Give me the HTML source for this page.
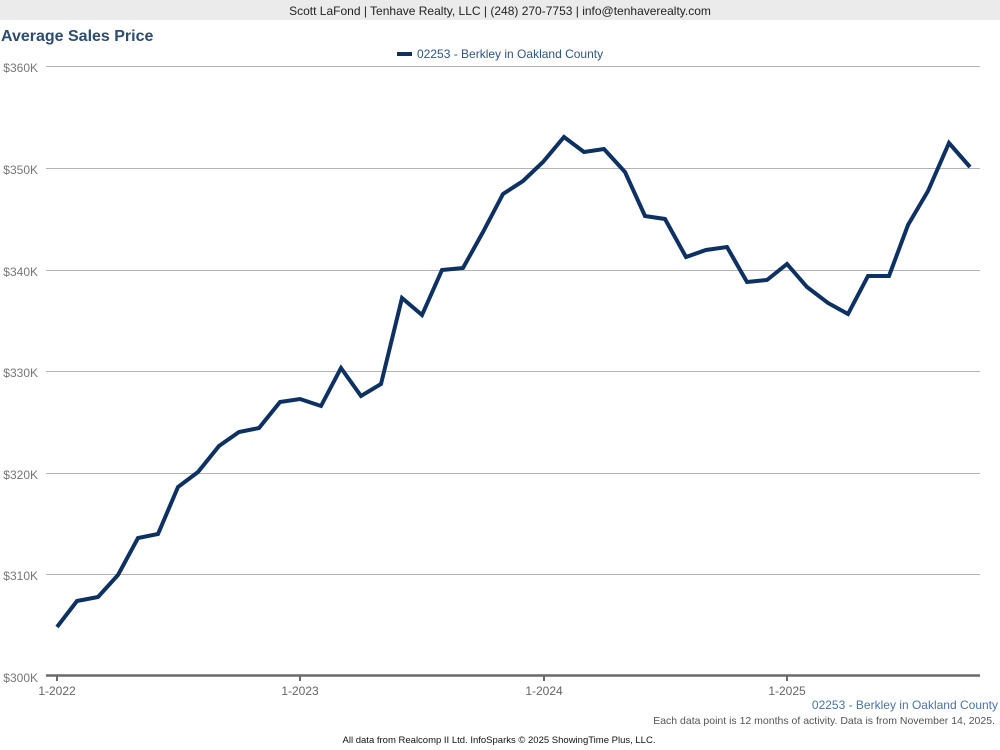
<!DOCTYPE html>
<html><head><meta charset="utf-8"><style>
html,body{margin:0;padding:0;background:#fff;}
body{width:1000px;height:750px;overflow:hidden;position:relative;font-family:"Liberation Sans",sans-serif;}
</style></head><body>
<svg width="1000" height="750" viewBox="0 0 1000 750" xmlns="http://www.w3.org/2000/svg" style="position:absolute;left:0;top:0;font-family:'Liberation Sans',sans-serif">
<rect x="0" y="0" width="1000" height="20" fill="#ebebeb"/>
<text x="500" y="15" text-anchor="middle" font-size="12" fill="#222">Scott LaFond | Tenhave Realty, LLC | (248) 270-7753 | info@tenhaverealty.com</text>
<text x="1" y="41" font-size="16" font-weight="bold" fill="#2c4c72">Average Sales Price</text>
<line x1="397" y1="54" x2="412" y2="54" stroke="#0f3162" stroke-width="4"/>
<text x="417" y="58" font-size="12" fill="#2f5582">02253 - Berkley in Oakland County</text>
<g stroke="#b4b4b4" stroke-width="1">
<line x1="46" y1="66.5" x2="980" y2="66.5"/>
<line x1="46" y1="168.5" x2="980" y2="168.5"/>
<line x1="46" y1="270.5" x2="980" y2="270.5"/>
<line x1="46" y1="371.5" x2="980" y2="371.5"/>
<line x1="46" y1="473.5" x2="980" y2="473.5"/>
<line x1="46" y1="574.5" x2="980" y2="574.5"/>
</g>
<line x1="46" y1="675.5" x2="980" y2="675.5" stroke="#6a6a6a" stroke-width="2.5"/>
<g stroke="#6a6a6a" stroke-width="2">
<line x1="57" y1="676" x2="57" y2="681"/>
<line x1="300" y1="676" x2="300" y2="681"/>
<line x1="544" y1="676" x2="544" y2="681"/>
<line x1="787" y1="676" x2="787" y2="681"/>
</g>
<g font-size="12" fill="#777" text-anchor="end">
<text x="38" y="72">$360K</text>
<text x="38" y="174">$350K</text>
<text x="38" y="276">$340K</text>
<text x="38" y="377">$330K</text>
<text x="38" y="479">$320K</text>
<text x="38" y="580">$310K</text>
<text x="38" y="682">$300K</text>
</g>
<g font-size="12" fill="#666" text-anchor="middle">
<text x="57" y="695">1-2022</text>
<text x="300" y="695">1-2023</text>
<text x="544" y="695">1-2024</text>
<text x="787" y="695">1-2025</text>
</g>
<polyline fill="none" stroke="#0d3163" stroke-width="4" stroke-linejoin="miter" stroke-linecap="butt" points="
57,627 77,601 98,597 118,575 138,538 158,534 178,487 198,472 219,446 239,432 259,428 280,402 300,399 321,406 341,368 361,396 381,384
402,298 422,315 442,270 463,268 483,232 503,194 523,181 543,162 564,137 584,152 604,149 625,172 645,216 665,219
686,257 706,250 727,247 747,282 767,280 787,264 807,287 828,303 848,314 868,276 889,276 908,225 928,191 949,143 970,167"/>
<text x="998" y="709" text-anchor="end" font-size="12" fill="#4a74a6">02253 - Berkley in Oakland County</text>
<text x="995" y="724" text-anchor="end" font-size="10.5" fill="#555">Each data point is 12 months of activity. Data is from November 14, 2025.</text>
<text x="499" y="743" text-anchor="middle" font-size="9.5" fill="#111">All data from Realcomp II Ltd. InfoSparks © 2025 ShowingTime Plus, LLC.</text>
</svg>
</body></html>
